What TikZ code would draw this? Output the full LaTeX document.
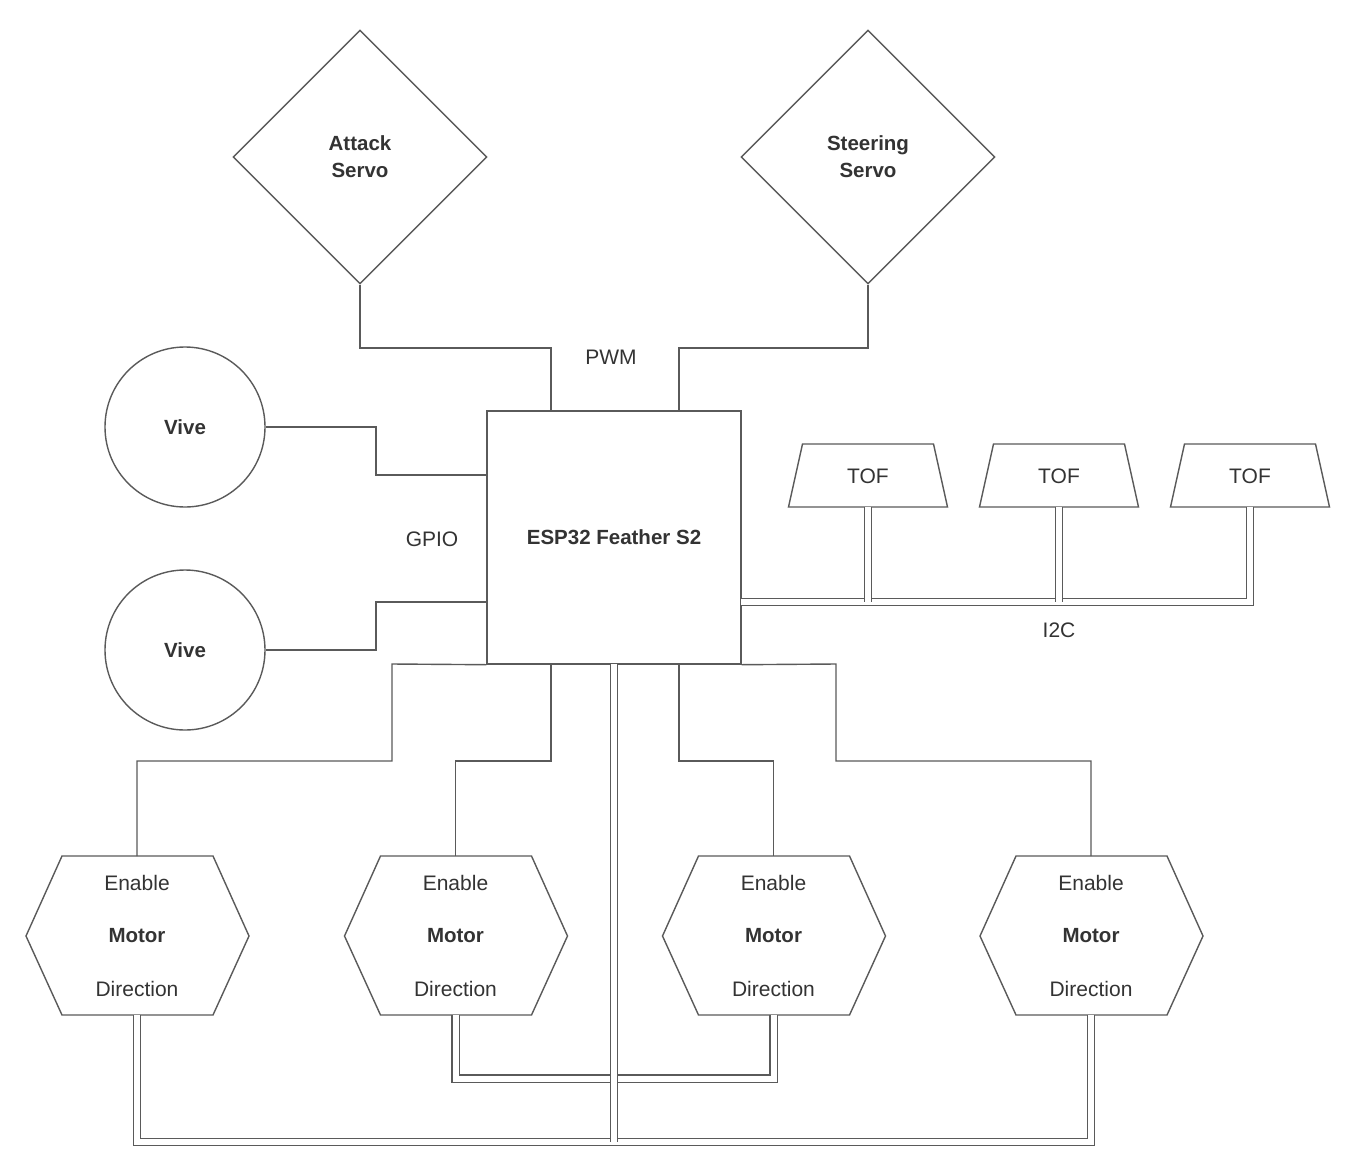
\documentclass[tikz,border=0pt]{standalone}
\usepackage{fontspec}
\setmainfont{Liberation Sans}
\usetikzlibrary{shapes.geometric}
\definecolor{ln}{HTML}{5A5A5A}
\definecolor{tx}{HTML}{333333}
\begin{document}
\begin{tikzpicture}[x=1pt,y=-1pt,
  wire/.style={draw=ln, line width=1.4pt},
  link/.style={draw=ln, line width=1.3pt, double=white, double distance=6pt},
  lbl/.style={text=tx, font=\fontsize{21}{27}\selectfont, inner sep=0pt, align=center},
  blbl/.style={text=tx, font=\fontsize{20.5}{27}\selectfont\bfseries, inner sep=0pt, align=center},
  shp/.style={draw=ln, line width=1.4pt, fill=white}]
\path[use as bounding box, fill=white] (0,0) rectangle (1364,1172);

% servos
\node[diamond, shp, blbl, minimum width=254pt, minimum height=254pt, aspect=1] (attack) at (360,157) {Attack\\Servo};
\node[diamond, shp, blbl, minimum width=254pt, minimum height=254pt, aspect=1] (steer) at (868,157) {Steering\\Servo};

% ESP
\node[rectangle, shp, blbl, minimum width=254pt, minimum height=253pt] (esp) at (614,537.5) {ESP32 Feather S2};
\coordinate (espN1) at (551,411);
\coordinate (espN2) at (679,411);
\coordinate (espW1) at (487,475);
\coordinate (espW2) at (487,602);
\coordinate (espE) at (741,602);
\coordinate (espS) at (614,664);
\coordinate (espS1) at (551,664);
\coordinate (espS2) at (679,664);

% vives
\node[circle, shp, blbl, minimum size=160pt] (vive1) at (185,427) {Vive};
\node[circle, shp, blbl, minimum size=160pt] (vive2) at (185,650) {Vive};

% TOFs
\foreach \i/\cx in {1/868,2/1059,3/1250}{
  \draw[shp] (\cx-79.5,507) -- (\cx-65.5,444) -- (\cx+65.5,444) -- (\cx+79.5,507) -- cycle;
  \node[lbl] (tof\i) at (\cx,476) {TOF};
  \coordinate (tofb\i) at (\cx,507);
}

% motors
\foreach \i/\cx in {1/137,2/455.5,3/773.5,4/1091}{
  \draw[shp] (\cx-111,936) -- (\cx-75,856) -- (\cx+76,856) -- (\cx+112,936) -- (\cx+76,1015) -- (\cx-75,1015) -- cycle;
  \node[blbl] (motor\i) at (\cx,936) {Motor};
  \node[lbl] (en\i) at (\cx,883) {Enable};
  \node[lbl] (dir\i) at (\cx,989) {Direction};
  \coordinate (mt\i) at (\cx,856);
  \coordinate (mb\i) at (\cx,1015);
}

% PWM
\draw[wire] (attack.south) -- (360,348) -- (551,348) -- (espN1);
\draw[wire] (steer.south) -- (868,348) -- (679,348) -- (espN2);
\node[lbl] (pwm) at (611,357) {PWM};

% GPIO
\draw[wire] (vive1.east) -- (376,427) -- (376,475) -- (espW1);
\draw[wire] (vive2.east) -- (376,650) -- (376,602) -- (espW2);
\node[lbl] (gpio) at (432,539) {GPIO};

% motor enable lines
\draw[wire] (esp.south west) -- (392,664) -- (392,761) -- (137,761) -- (mt1);
\draw[wire] (espS1) -- (551,761) -- (455.5,761) -- (mt2);
\draw[wire] (espS2) -- (679,761) -- (773.5,761) -- (mt3);
\draw[wire] (esp.south east) -- (836,664) -- (836,761) -- (1091,761) -- (mt4);

% I2C bus
\draw[link] (espE) -- (1250,602) -- (tofb3);
\draw[link] (tofb1) -- (868,602);
\draw[link] (tofb2) -- (1059,602);
\node[lbl] (i2c) at (1059,630) {I2C};

% direction links
\draw[link] (mb1) -- (137,1142) -- (1091,1142) -- (mb4);
\draw[link] (mb2) -- (455.5,1078.5) -- (773.5,1078.5) -- (mb3);
\draw[link] (espS) -- (614,1142);
\end{tikzpicture}
\end{document}
